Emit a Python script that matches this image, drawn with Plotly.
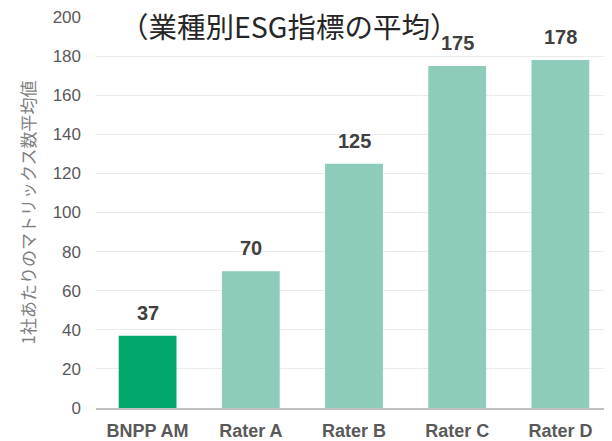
import plotly.graph_objects as go

# data
raters = ["BNPP AM", "Rater A", "Rater B", "Rater C", "Rater D"]
avg_metrics = [37, 70, 125, 175, 178]
bar_colors = ["#00a86b", "#8dcbba", "#8dcbba", "#8dcbba", "#8dcbba"]
y_ticks = [0, 20, 40, 60, 80, 100, 120, 140, 160, 180, 200]

fig = go.Figure()
fig.add_trace(go.Bar(
    x=raters,
    y=avg_metrics,
    marker=dict(color=bar_colors, line=dict(width=0)),
    hoverinfo="x+y",
))

# value labels above each bar
for name, val in zip(raters, avg_metrics):
    fig.add_annotation(
        x=name, y=val, text=f"<b>{val}</b>", showarrow=False,
        yanchor="bottom", yshift=10,
        font=dict(family="Liberation Sans, Arial", size=20, color="#404040"),
    )

# chart heading inside the plot area
fig.add_annotation(
    xref="paper", yref="paper", x=0.043, y=1.0, xanchor="left", yanchor="middle",
    yshift=-8, text="（業種別ESG指標の平均）", showarrow=False,
    font=dict(family="Noto Sans CJK JP", size=28.5, color="#262626"),
)

# page body has an 8px margin, so the figure is sized 8px smaller
fig.update_layout(
    width=604, height=433,
    margin=dict(l=88, r=0, t=6, b=32),
    plot_bgcolor="white", paper_bgcolor="white",
    bargap=0.44,
    showlegend=False,
    font=dict(family="Liberation Sans, Arial"),
    xaxis=dict(
        showgrid=False, showline=True, linecolor="#bfbfbf", linewidth=2,
        ticks="", tickfont=dict(size=18, color="#595959", weight="bold"),
        ticklabelstandoff=5,
    ),
    yaxis=dict(
        range=[0, 200], tickvals=y_ticks, showgrid=True, gridcolor="#ebebeb",
        gridwidth=1, zeroline=False, showline=False,
        tickfont=dict(size=17, color="#595959"),
        ticklabelstandoff=14, ticklabeloverflow="allow",
        title=dict(text="1社あたりのマトリックス数平均値", standoff=12,
                   font=dict(family="Noto Sans CJK JP", size=17, color="#7f7f7f")),
    ),
)

fig.write_html("out.html")
